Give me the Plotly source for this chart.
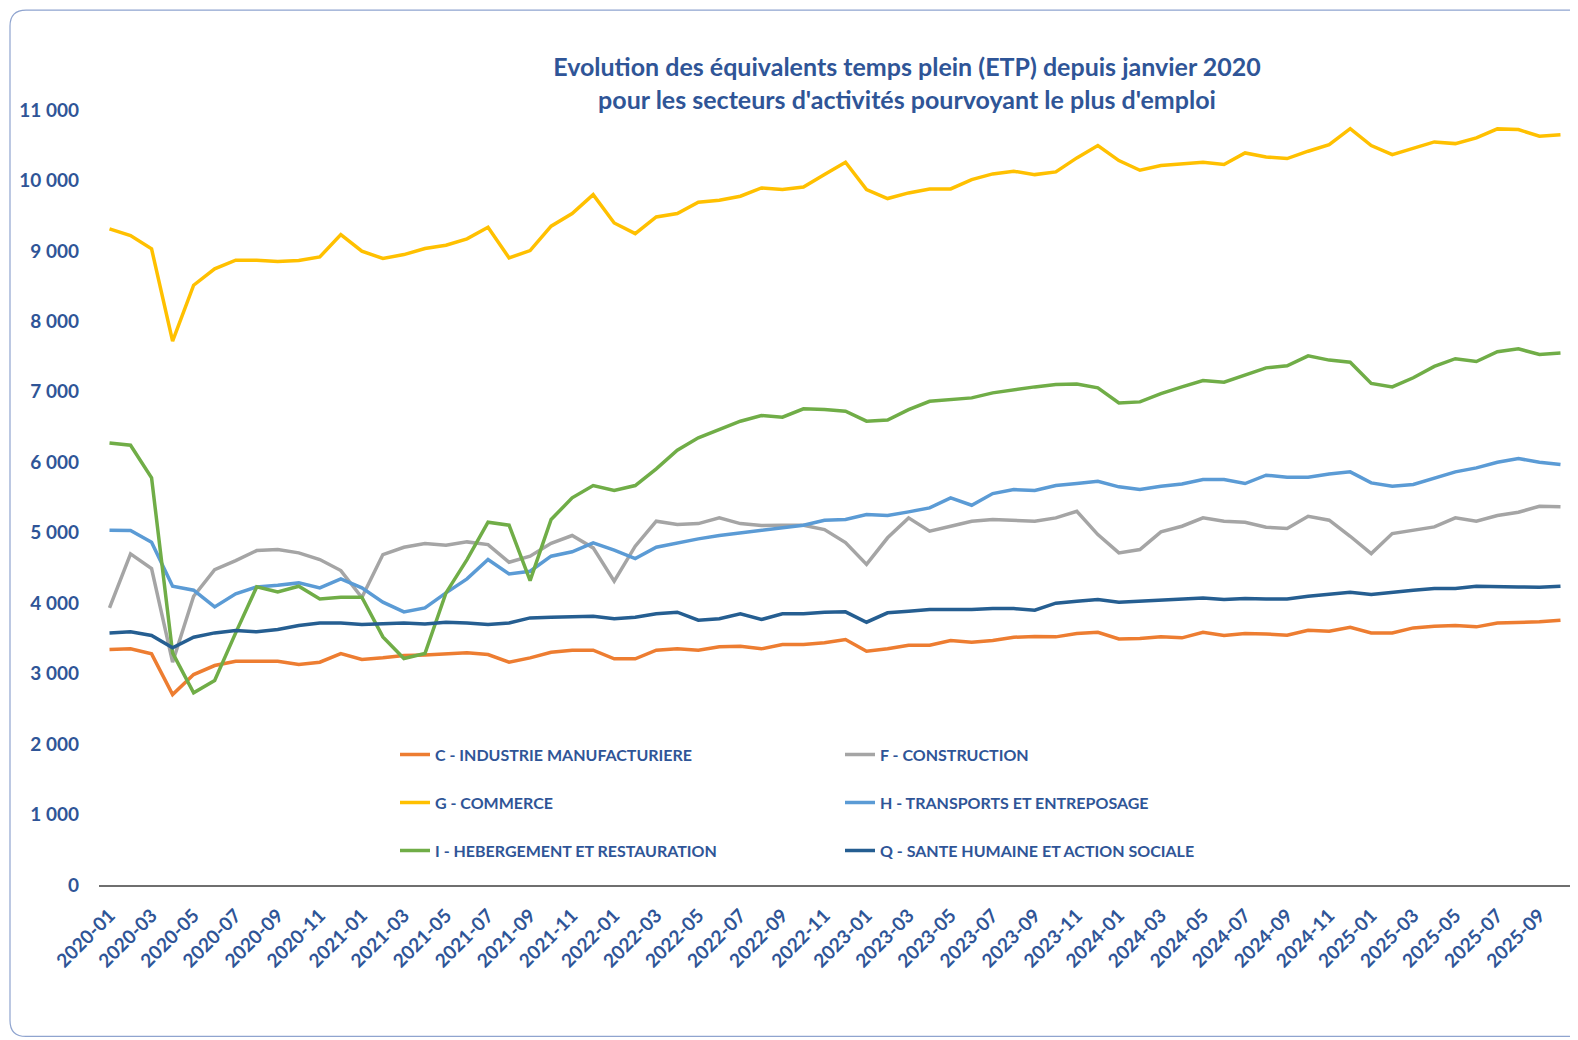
import plotly.graph_objects as go

# Mois (janvier 2020 -> octobre 2025)
mois = [f"{a}-{m:02d}" for a in range(2020, 2026) for m in range(1, 13)][:70]
etiquettes_x = mois[::2]

# ETP par secteur
c_industrie = [3342, 3352, 3281, 2703, 2987, 3115, 3176, 3176, 3176, 3129, 3162, 3285, 3200, 3224,
               3257, 3266, 3285, 3295, 3271, 3162, 3224, 3304, 3332, 3332, 3210, 3210, 3332, 3352,
               3332, 3380, 3390, 3352, 3413, 3413, 3437, 3484, 3318, 3352, 3404, 3404, 3470, 3446,
               3470, 3517, 3527, 3522, 3569, 3588, 3493, 3498, 3522, 3508, 3588, 3541, 3569, 3564,
               3545, 3616, 3602, 3659, 3578, 3578, 3649, 3673, 3683, 3664, 3720, 3730, 3735, 3758]
f_construction = [3933, 4700, 4492, 3162, 4099, 4477, 4605, 4747, 4761, 4714, 4619, 4463, 4080, 4690,
                  4794, 4846, 4823, 4870, 4832, 4581, 4667, 4850, 4960, 4785, 4312, 4809, 5163, 5116,
                  5130, 5211, 5130, 5102, 5107, 5107, 5045, 4860, 4550, 4928, 5211, 5022, 5092, 5163,
                  5187, 5178, 5163, 5211, 5305, 4974, 4714, 4761, 5012, 5092, 5211, 5163, 5149, 5078,
                  5059, 5234, 5178, 4950, 4704, 4988, 5036, 5083, 5211, 5163, 5244, 5291, 5376, 5367]
g_commerce = [9313, 9218, 9029, 7718, 8513, 8745, 8868, 8868, 8849, 8863, 8915, 9232, 8996, 8892,
              8948, 9034, 9081, 9171, 9336, 8901, 9005, 9351, 9530, 9799, 9397, 9246, 9482, 9530,
              9691, 9719, 9776, 9894, 9870, 9908, 10083, 10258, 9870, 9743, 9823, 9880, 9880, 10012,
              10093, 10131, 10083, 10121, 10320, 10495, 10282, 10145, 10211, 10235, 10259, 10226,
              10391, 10334, 10311, 10415, 10509, 10736, 10495, 10367, 10462, 10547, 10523, 10604,
              10732, 10722, 10628, 10647]
h_transports = [5036, 5031, 4865, 4241, 4184, 3947, 4132, 4231, 4255, 4288, 4217, 4345, 4217, 4014,
                3877, 3933, 4146, 4345, 4619, 4416, 4454, 4667, 4729, 4857, 4752, 4634, 4795, 4857,
                4913, 4960, 4998, 5036, 5069, 5107, 5178, 5187, 5258, 5244, 5296, 5353, 5495, 5390,
                5556, 5613, 5600, 5670, 5698, 5731, 5651, 5613, 5660, 5693, 5755, 5755, 5698, 5816,
                5788, 5788, 5835, 5864, 5707, 5660, 5684, 5778, 5864, 5920, 6001, 6053, 6001, 5968]
i_hebergement = [6275, 6242, 5778, 3295, 2727, 2902, 3578, 4231, 4160, 4241, 4061, 4085, 4085, 3522,
                 3214, 3285, 4146, 4619, 5149, 5107, 4321, 5187, 5495, 5670, 5600, 5670, 5907, 6171,
                 6347, 6465, 6583, 6663, 6640, 6759, 6750, 6725, 6583, 6600, 6748, 6866, 6890, 6914,
                 6985, 7032, 7070, 7103, 7112, 7056, 6843, 6857, 6975, 7070, 7160, 7136, 7240, 7340,
                 7370, 7510, 7450, 7420, 7120, 7070, 7200, 7360, 7470, 7430, 7570, 7610, 7530, 7550]
q_sante = [3578, 3593, 3541, 3366, 3517, 3578, 3612, 3593, 3626, 3683, 3720, 3720, 3697, 3706,
           3720, 3706, 3730, 3720, 3697, 3720, 3791, 3801, 3806, 3815, 3778, 3801, 3849, 3872,
           3758, 3778, 3849, 3768, 3849, 3849, 3872, 3877, 3730, 3863, 3886, 3910, 3910, 3910,
           3924, 3924, 3900, 4000, 4028, 4052, 4014, 4028, 4052, 4061, 4075, 4052, 4066, 4061,
           4061, 4099, 4132, 4156, 4123, 4156, 4184, 4208, 4208, 4241, 4241, 4231, 4227, 4241]

series = [
    ("C - INDUSTRIE MANUFACTURIERE", c_industrie, "#ED7D31", "legend"),
    ("F - CONSTRUCTION", f_construction, "#A5A5A5", "legend"),
    ("G - COMMERCE", g_commerce, "#FFC000", "legend2"),
    ("H - TRANSPORTS ET ENTREPOSAGE", h_transports, "#5B9BD5", "legend2"),
    ("I - HEBERGEMENT ET RESTAURATION", i_hebergement, "#70AD47", "legend3"),
    ("Q - SANTE HUMAINE ET ACTION SOCIALE", q_sante, "#255E91", "legend3"),
]

bleu = "#2F5597"
police = "Lato, sans-serif"

fig = go.Figure()
for nom, valeurs, couleur, leg in series:
    fig.add_trace(go.Scatter(x=mois, y=valeurs, name=nom, mode="lines",
                             line=dict(color=couleur, width=3.5), legend=leg))

# la page ajoute une marge de 8 px : tout est décalé d'autant
D = 8
W, H = 1578 - D, 1040 - D
L, R, T = 99 - D, 7, 110 - D
B = H - (885.5 - D)
pw, ph = W - L - R, H - T - B


def px_x(p):
    return (p - D - L) / pw


def px_y(p):
    return (H - B - (p - D)) / ph


def legende(y_px):
    return dict(orientation="h", x=px_x(395), y=px_y(y_px), xanchor="left", yanchor="middle",
                entrywidth=400, bgcolor="rgba(0,0,0,0)",
                font=dict(family=police, size=16, color=bleu, weight="bold"))


# cadre arrondi de la zone de graphique
x0, y0, x1, y1, r = 10, 10, 1600, 1037, 16
cadre = (f"M {px_x(x0 + r)},{px_y(y0)} L {px_x(x1)},{px_y(y0)} "
         f"M {px_x(x0 + r)},{px_y(y0)} Q {px_x(x0)},{px_y(y0)} {px_x(x0)},{px_y(y0 + r)} "
         f"L {px_x(x0)},{px_y(y1 - r)} Q {px_x(x0)},{px_y(y1)} {px_x(x0 + r)},{px_y(y1)} "
         f"L {px_x(x1)},{px_y(y1)}")

fig.update_layout(
    width=W, height=H,
    margin=dict(l=L, r=R, t=T, b=B),
    paper_bgcolor="white", plot_bgcolor="white",
    separators=", ",
    title=dict(text="Evolution des équivalents temps plein (ETP) depuis janvier 2020<br>"
                    "pour les secteurs d'activités pourvoyant le plus d'emploi",
               x=(907 - D) / W, xanchor="center", xref="container",
               y=1 - (76 - D) / H, yanchor="middle", yref="container",
               font=dict(family=police, size=25, color=bleu, weight="bold")),
    xaxis=dict(type="category", range=[-0.5, 69.5], tickmode="array", tickvals=etiquettes_x,
               tickangle=-45, showgrid=False, showline=True, linecolor="#6F6F6F", linewidth=2,
               ticks="", ticklabelstandoff=10,
               tickfont=dict(family=police, size=19, color=bleu, weight="bold")),
    yaxis=dict(range=[0, 11000], dtick=1000, tickformat=",d", showgrid=False, showline=False,
               zeroline=False, ticks="", ticklabelstandoff=19,
               tickfont=dict(family=police, size=19, color=bleu, weight="bold")),
    legend=legende(755),
    legend2=legende(803),
    legend3=legende(851),
    shapes=[dict(type="path", xref="paper", yref="paper", path=cadre,
                 line=dict(color="#8FA4CF", width=1.2))],
)

fig.write_html("out.html")
